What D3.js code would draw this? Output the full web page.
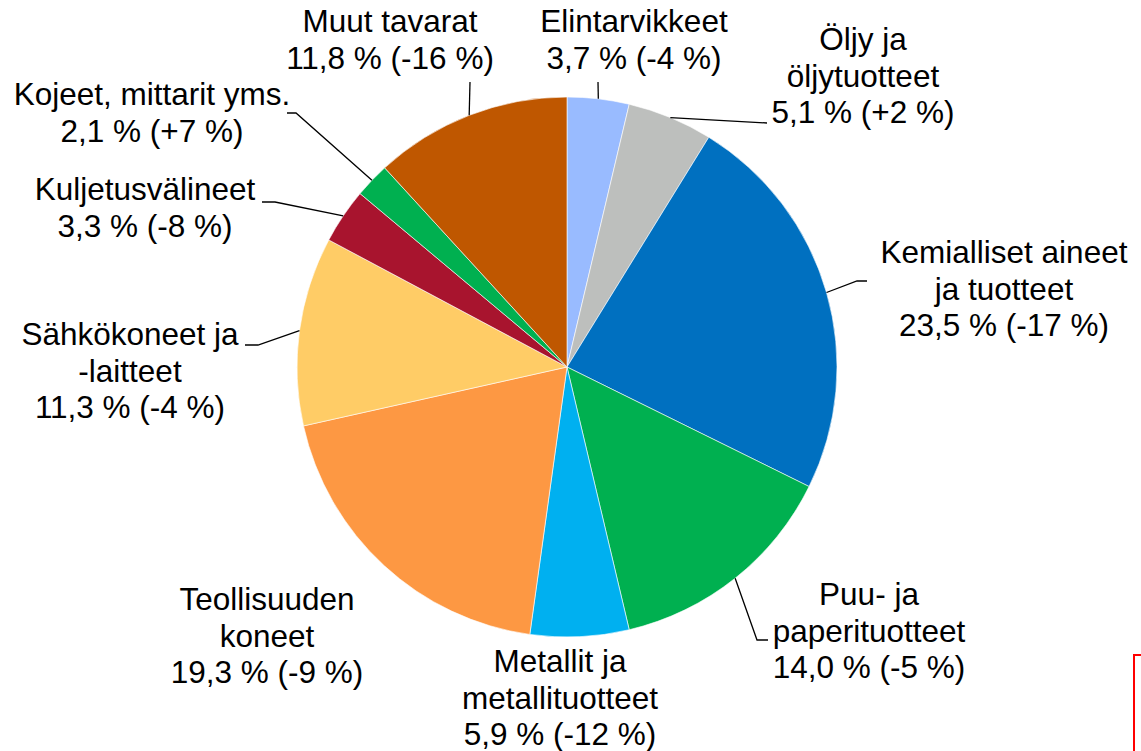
<!DOCTYPE html>
<html>
<head>
<meta charset="utf-8">
<script src="https://cdn.jsdelivr.net/npm/d3@7"></script>
<style>
  body { margin: 0; background: #fff; }
  svg { display: block; }
  text { font-family: "Liberation Sans", Arial, sans-serif; font-size: 31.5px; fill: #000; }
</style>
</head>
<body>
<svg id="chart" width="1141" height="751"></svg>
<script>
// shares of total, clockwise from 12 o'clock
let categories = ["Elintarvikkeet", "Öljy ja öljytuotteet", "Kemialliset aineet ja tuotteet",
    "Puu- ja paperituotteet", "Metallit ja metallituotteet", "Teollisuuden koneet",
    "Sähkökoneet ja -laitteet", "Kuljetusvälineet", "Kojeet, mittarit yms.", "Muut tavarat"];
let labelLines = [["Elintarvikkeet"], ["Öljy ja", "öljytuotteet"], ["Kemialliset aineet", "ja tuotteet"],
    ["Puu- ja", "paperituotteet"], ["Metallit ja", "metallituotteet"], ["Teollisuuden", "koneet"],
    ["Sähkökoneet ja", "-laitteet"], ["Kuljetusvälineet"], ["Kojeet, mittarit yms."], ["Muut tavarat"]];
let shares = [3.7, 5.1, 23.5, 14.0, 5.9, 19.3, 11.3, 3.3, 2.1, 11.8];
let changes = [-4, 2, -17, -5, -12, -9, -4, -8, 7, -16];
let colors = ["#99BBFF", "#BDBFBD", "#0070C0", "#00B050", "#00B0F0", "#FD9843",
    "#FFCC66", "#A8142E", "#00B050", "#BF5700"];

// label placement (center x, first baseline) and leader bend points
let labelPos = [[634, 32], [863, 50], [1004, 263], [869, 605], [560, 672],
    [267, 610], [130, 345], [145, 200], [152, 105], [390, 32]];
let leaders = [[[598, 82]], [[767, 123]], [[857, 281], [867, 281]], [[757, 640], [768, 640]],
    null, null, [[258, 345], [245, 345]], [[275, 202], [262, 202]], [[296, 113], [287, 113]],
    [[470, 82]]];

let cx = 567, cy = 367, radius = 270, lineStep = 36.5;

let fmt = (v) => v.toFixed(1).replace('.', ',');
let fmtChange = (v) => (v > 0 ? '+' : '') + v;

let svg = d3.select('#chart');

let pie = d3.pie().sort(null).value((d) => d);
let arc = d3.arc().innerRadius(0).outerRadius(radius);
let arcs = pie(shares);

let g = svg.append('g').attr('transform', `translate(${cx},${cy})`);

g.selectAll('path')
    .data(arcs)
    .enter()
    .append('path')
    .attr('d', arc)
    .style('fill', (d, i) => colors[i])
    .style('stroke', '#fff')
    .style('stroke-width', 0.6);

// leader lines start on the rim at each slice's mid angle
let line = d3.line();
arcs.forEach(function (d, i) {
    if (!leaders[i]) return;
    let a = (d.startAngle + d.endAngle) / 2;
    let start = [cx + radius * Math.sin(a), cy - radius * Math.cos(a)];
    svg.append('path')
        .attr('d', line([start].concat(leaders[i])))
        .style('fill', 'none')
        .style('stroke', '#000')
        .style('stroke-width', 1.3);
});

let labels = svg.append('g')
    .selectAll('text')
    .data(categories)
    .enter()
    .append('text')
    .attr('text-anchor', 'middle')
    .attr('x', (d, i) => labelPos[i][0])
    .attr('y', (d, i) => labelPos[i][1]);

labels.each(function (d, i) {
    let rows = labelLines[i].concat([fmt(shares[i]) + ' % (' + fmtChange(changes[i]) + ' %)']);
    d3.select(this).selectAll('tspan')
        .data(rows)
        .enter()
        .append('tspan')
        .attr('x', labelPos[i][0])
        .attr('dy', (r, j) => j == 0 ? 0 : lineStep)
        .text((r) => r);
});

// red frame peeking in at bottom right
svg.append('rect')
    .attr('x', 1134)
    .attr('y', 655)
    .attr('width', 60)
    .attr('height', 120)
    .style('fill', 'none')
    .style('stroke', '#FF0000')
    .style('stroke-width', 2);
</script>
</body>
</html>
